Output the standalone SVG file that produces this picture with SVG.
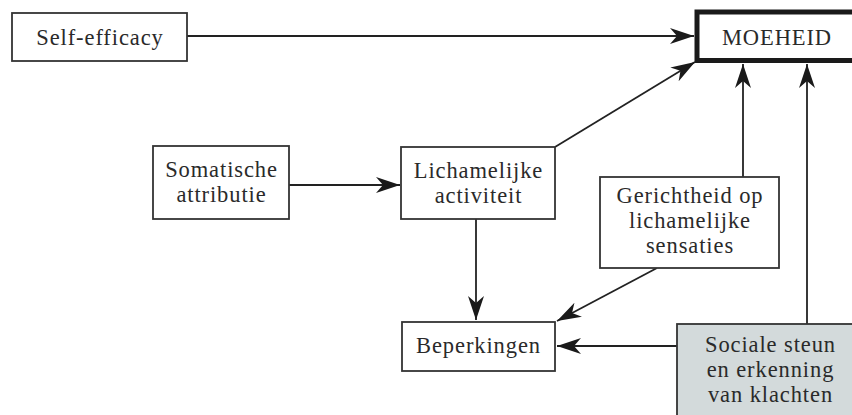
<svg xmlns="http://www.w3.org/2000/svg" width="852" height="415" viewBox="0 0 852 415">
<style>
.box{fill:#fff;stroke:#333;stroke-width:1.8}
.thick{fill:#fff;stroke:#1a1a1a;stroke-width:5}
.grey{fill:#d3dadb;stroke:#333;stroke-width:1.8}
text{font-family:'Liberation Serif','Times New Roman',serif;font-size:22.5px;letter-spacing:0.9px;fill:#2a2a2a;text-anchor:middle}
.c{stroke:#222;stroke-width:1.8;fill:none;marker-end:url(#ah)}
</style>
<defs>
<marker id="ah" markerWidth="26" markerHeight="16" refX="24" refY="8" orient="auto" markerUnits="userSpaceOnUse">
<path d="M0,0 L24,8 L0,16 L7,8 Z" fill="#1a1a1a"/>
</marker>
</defs>
<rect width="852" height="415" fill="#fff"/>
<g id="connectors">
<line class="c" x1="187" y1="36" x2="694" y2="36"/>
<line class="c" x1="289" y1="185" x2="400" y2="185"/>
<line class="c" x1="555" y1="147" x2="695" y2="62"/>
<line class="c" x1="476" y1="219" x2="476" y2="320"/>
<line class="c" x1="743" y1="177" x2="743" y2="64"/>
<line class="c" x1="657" y1="268" x2="557" y2="321"/>
<line class="c" x1="677" y1="346" x2="557" y2="346"/>
<line class="c" x1="807" y1="324" x2="807" y2="64"/>
</g>
<g id="self-efficacy">
<rect class="box" x="12" y="13" width="175" height="48"/>
<text x="100" y="45">Self-efficacy</text>
</g>
<g id="moeheid">
<rect class="thick" x="697" y="12" width="200" height="48.5"/>
<text x="777" y="45">MOEHEID</text>
</g>
<g id="somatische-attributie">
<rect class="box" x="153" y="146" width="136" height="73"/>
<text x="221.5" y="177">Somatische</text>
<text x="221.5" y="202">attributie</text>
</g>
<g id="lichamelijke-activiteit">
<rect class="box" x="401" y="147" width="154" height="72"/>
<text x="478.5" y="178">Lichamelijke</text>
<text x="478.5" y="203">activiteit</text>
</g>
<g id="gerichtheid">
<rect class="box" x="600" y="177" width="179" height="91"/>
<text x="690" y="203">Gerichtheid op</text>
<text x="690" y="228">lichamelijke</text>
<text x="690" y="253">sensaties</text>
</g>
<g id="beperkingen">
<rect class="box" x="402" y="322" width="153" height="49"/>
<text x="478.5" y="353">Beperkingen</text>
</g>
<g id="sociale-steun">
<rect class="grey" x="677" y="324" width="200" height="120"/>
<text x="770.5" y="352">Sociale steun</text>
<text x="770.5" y="377">en erkenning</text>
<text x="770.5" y="402">van klachten</text>
</g>
</svg>
